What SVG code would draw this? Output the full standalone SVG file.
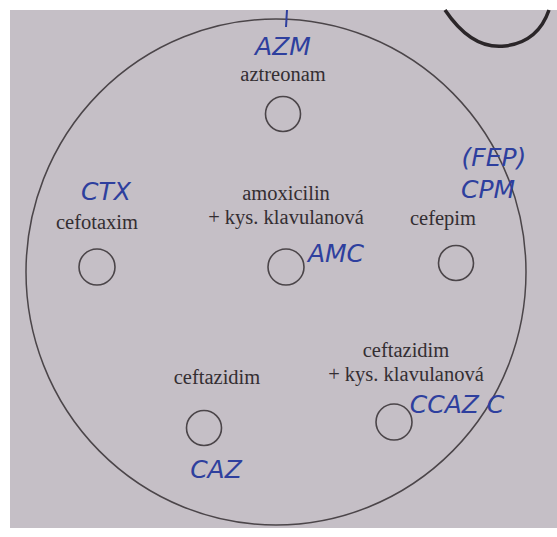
<svg xmlns="http://www.w3.org/2000/svg" width="557" height="537" viewBox="0 0 557 537">
  <style>
    .print { font-family: "Liberation Serif", "DejaVu Serif", serif; font-size: 20.5px; fill: #342e32; text-anchor: middle; }
    .hand { font-family: "DejaVu Sans", "Liberation Sans", sans-serif; font-style: italic; font-size: 25px; fill: #2e3f9e; text-anchor: middle; }
    .disk { fill: none; stroke: #4b4549; stroke-width: 1.6; }
  </style>
  <rect x="0" y="0" width="557" height="537" fill="#ffffff"/>
  <rect x="10" y="10" width="547" height="518" fill="#c5bfc6"/>
  <g id="plate">
    <ellipse cx="276" cy="272" rx="250" ry="253" fill="none" stroke="#4b4549" stroke-width="1.5"/>
  </g>
  <g id="page-mark">
    <path d="M445 10 Q472 50 505 46 Q538 42 549 10" fill="none" stroke="#2b2629" stroke-width="3.5"/>
    <path d="M287 10 L286 27" fill="none" stroke="#2e3f9e" stroke-width="2"/>
  </g>
  <g id="aztreonam">
    <text class="hand" x="283" y="55">AZM</text>
    <text class="print" x="283" y="81">aztreonam</text>
    <circle class="disk" cx="283" cy="114" r="17.5"/>
  </g>
  <g id="cefotaxim">
    <text class="hand" x="106" y="200">CTX</text>
    <text class="print" x="97" y="229">cefotaxim</text>
    <circle class="disk" cx="97" cy="267" r="18"/>
  </g>
  <g id="amoxicilin">
    <text class="print" x="286" y="200">amoxicilin</text>
    <text class="print" x="286" y="224">+ kys. klavulanová</text>
    <circle class="disk" cx="286" cy="267" r="18"/>
    <text class="hand" x="336" y="262">AMC</text>
  </g>
  <g id="cefepim">
    <text class="hand" x="494" y="166">(FEP)</text>
    <text class="hand" x="488" y="198">CPM</text>
    <text class="print" x="443" y="225">cefepim</text>
    <circle class="disk" cx="456" cy="263" r="17.5"/>
  </g>
  <g id="ceftazidim">
    <text class="print" x="217" y="384">ceftazidim</text>
    <circle class="disk" cx="204" cy="428" r="17.5"/>
    <text class="hand" x="216" y="478">CAZ</text>
  </g>
  <g id="ceftazidim-klavulanova">
    <text class="print" x="406" y="357">ceftazidim</text>
    <text class="print" x="406" y="381">+ kys. klavulanová</text>
    <circle class="disk" cx="394" cy="422" r="18"/>
    <text class="hand" x="457" y="413">CCAZ C</text>
  </g>
</svg>
